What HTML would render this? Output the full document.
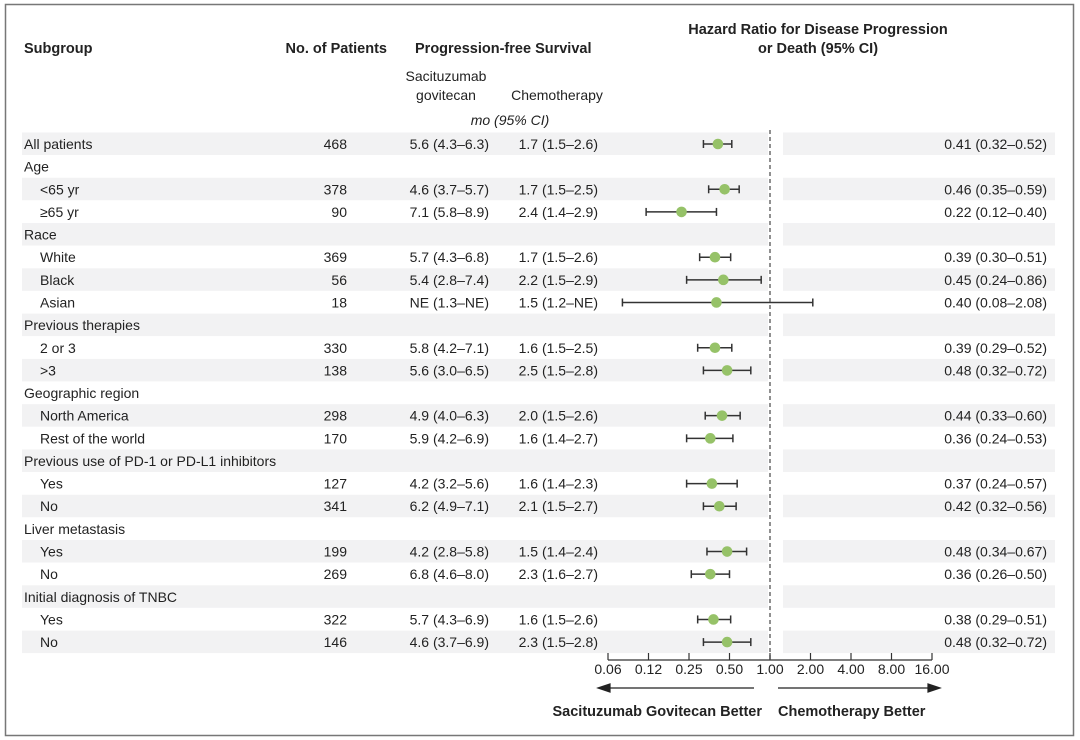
<!DOCTYPE html>
<html><head><meta charset="utf-8"><style>
html,body{margin:0;padding:0;background:#fff}
svg{display:block}
text{font-family:"Liberation Sans",sans-serif;fill:#222;font-size:14px}
.b{font-weight:bold;font-size:14.5px}
</style></head><body>
<svg width="1080" height="740" xmlns="http://www.w3.org/2000/svg">
<rect x="5.5" y="4.5" width="1068" height="731" fill="none" stroke="#777" stroke-width="1.5"/>
<g id="bands" fill="#f2f2f3"></g>
<text class="b" x="24" y="53">Subgroup</text>
<text class="b" x="387" y="53" text-anchor="end">No. of Patients</text>
<text class="b" x="415" y="53">Progression-free Survival</text>
<text x="446" y="81" text-anchor="middle" font-size="13.5">Sacituzumab</text>
<text x="446" y="100" text-anchor="middle" font-size="13.5">govitecan</text>
<text x="557" y="100" text-anchor="middle" font-size="13.5">Chemotherapy</text>
<text x="510" y="125" text-anchor="middle" font-style="italic" font-size="13.5">mo (95% CI)</text>
<text class="b" x="818" y="34" text-anchor="middle">Hazard Ratio for Disease Progression</text>
<text class="b" x="818" y="53" text-anchor="middle">or Death (95% CI)</text>
<g id="rows"></g>
<line x1="770" y1="130" x2="770" y2="660" stroke="#555" stroke-width="1.3" stroke-dasharray="4,3"/>
<g stroke="#333" stroke-width="1.2">
<line x1="608" y1="660" x2="932" y2="660"/>
</g>
<g id="ticks"></g>
<g stroke="#222" stroke-width="1.2" fill="#222">
<line x1="606" y1="688" x2="754" y2="688"/><polygon points="598,688 610,684 610,692"/>
<line x1="778" y1="688" x2="930" y2="688"/><polygon points="940,688 928,684 928,692"/>
</g>
<text class="b" x="762" y="716" text-anchor="end">Sacituzumab Govitecan Better</text>
<text class="b" x="778" y="716">Chemotherapy Better</text>
<script>
var ns="http://www.w3.org/2000/svg";
function el(p,t,a,txt){var e=document.createElementNS(ns,t);for(var k in a)e.setAttribute(k,a[k]);if(txt!=null)e.textContent=txt;p.appendChild(e);return e;}
function X(v){return 770+40.5*Math.log2(v);}
var R=[["All patients",0,"468","5.6 (4.3\u20136.3)","1.7 (1.5\u20132.6)",0.41,0.32,0.52],
["Age",0],["<65 yr",1,"378","4.6 (3.7\u20135.7)","1.7 (1.5\u20132.5)",0.46,0.35,0.59],
["\u226565 yr",1,"90","7.1 (5.8\u20138.9)","2.4 (1.4\u20132.9)",0.22,0.12,0.40],
["Race",0],["White",1,"369","5.7 (4.3\u20136.8)","1.7 (1.5\u20132.6)",0.39,0.30,0.51],
["Black",1,"56","5.4 (2.8\u20137.4)","2.2 (1.5\u20132.9)",0.45,0.24,0.86],
["Asian",1,"18","NE (1.3\u2013NE)","1.5 (1.2\u2013NE)",0.40,0.08,2.08],
["Previous therapies",0],["2 or 3",1,"330","5.8 (4.2\u20137.1)","1.6 (1.5\u20132.5)",0.39,0.29,0.52],
[">3",1,"138","5.6 (3.0\u20136.5)","2.5 (1.5\u20132.8)",0.48,0.32,0.72],
["Geographic region",0],["North America",1,"298","4.9 (4.0\u20136.3)","2.0 (1.5\u20132.6)",0.44,0.33,0.60],
["Rest of the world",1,"170","5.9 (4.2\u20136.9)","1.6 (1.4\u20132.7)",0.36,0.24,0.53],
["Previous use of PD-1 or PD-L1 inhibitors",0],["Yes",1,"127","4.2 (3.2\u20135.6)","1.6 (1.4\u20132.3)",0.37,0.24,0.57],
["No",1,"341","6.2 (4.9\u20137.1)","2.1 (1.5\u20132.7)",0.42,0.32,0.56],
["Liver metastasis",0],["Yes",1,"199","4.2 (2.8\u20135.8)","1.5 (1.4\u20132.4)",0.48,0.34,0.67],
["No",1,"269","6.8 (4.6\u20138.0)","2.3 (1.6\u20132.7)",0.36,0.26,0.50],
["Initial diagnosis of TNBC",0],["Yes",1,"322","5.7 (4.3\u20136.9)","1.6 (1.5\u20132.6)",0.38,0.29,0.51],
["No",1,"146","4.6 (3.7\u20136.9)","2.3 (1.5\u20132.8)",0.48,0.32,0.72]];
var g=document.getElementById("rows"),bd=document.getElementById("bands");
R.forEach(function(r,i){var y=144+i*22.64;
 if(i%2==0){el(bd,"rect",{x:22,y:y-11.5,width:746,height:22.5});el(bd,"rect",{x:783,y:y-11.5,width:272,height:22.5});}
 el(g,"text",{x:r[1]?40:24,y:y+5},r[0]);
 if(r.length>2){
  el(g,"text",{x:347,y:y+5,"text-anchor":"end"},r[2]);
  el(g,"text",{x:489,y:y+5,"text-anchor":"end"},r[3]);
  el(g,"text",{x:598,y:y+5,"text-anchor":"end"},r[4]);
  el(g,"text",{x:1047,y:y+5,"text-anchor":"end"},r[5].toFixed(2)+" ("+r[6].toFixed(2)+"\u2013"+r[7].toFixed(2)+")");
  var a=X(r[6]),b=X(r[7]);
  el(g,"line",{x1:a,y1:y,x2:b,y2:y,stroke:"#333","stroke-width":1.5});
  el(g,"line",{x1:a,y1:y-4,x2:a,y2:y+4,stroke:"#333","stroke-width":1.5});
  el(g,"line",{x1:b,y1:y-4,x2:b,y2:y+4,stroke:"#333","stroke-width":1.5});
  el(g,"circle",{cx:X(r[5]),cy:y,r:5.3,fill:"#96c268"});
 }});
var tk=document.getElementById("ticks"),L=["0.06","0.12","0.25","0.50","1.00","2.00","4.00","8.00","16.00"];
L.forEach(function(l,i){var x=608+i*40.5;el(tk,"line",{x1:x,y1:653,x2:x,y2:660,stroke:"#333","stroke-width":1.2});
 el(tk,"text",{x:x,y:674,"text-anchor":"middle"},l);});
</script>
</svg>
</body></html>
